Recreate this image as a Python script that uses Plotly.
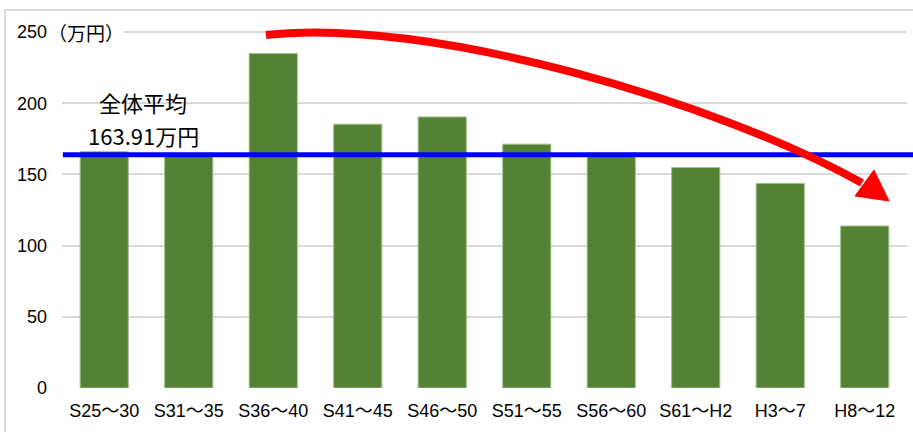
import plotly.graph_objects as go

# 建築年代別の平均額（万円）
periods = ["S25～30", "S31～35", "S36～40", "S41～45", "S46～50",
           "S51～55", "S56～60", "S61～H2", "H3～7", "H8～12"]
amounts = [166, 165, 235, 185.3, 190.4, 171.3, 165, 154.9, 143.7, 113.8]
overall_avg = 163.91
y_ticks = [0, 50, 100, 150, 200, 250]

TEXT_FONT = "Liberation Sans, Arial, Noto Sans CJK JP, sans-serif"
CJK_FONT = "Noto Sans CJK JP, Noto Sans CJK SC, sans-serif"

fig = go.Figure()
fig.add_trace(go.Bar(
    x=list(range(len(periods))),
    y=amounts,
    marker=dict(color="#548235", line=dict(color="#a3bd8c", width=1)),
    hoverinfo="skip",
))

# 全体平均の水平線
fig.add_shape(type="line", xref="paper", yref="y",
              x0=0.001, x1=1.01, y0=overall_avg, y1=overall_avg,
              line=dict(color="#0000ff", width=5), layer="above")

# 下降傾向を示す赤い曲線矢印（軸座標）
p0 = (1.914, 248.0)
p1 = (3.855, 261.0)
p2 = (7.287, 200.0)
p3 = (8.967, 144.0)
fig.add_shape(type="path", xref="x", yref="y",
              path=f"M {p0[0]},{p0[1]} C {p1[0]},{p1[1]} {p2[0]},{p2[1]} {p3[0]},{p3[1]}",
              line=dict(color="#ff0000", width=8), layer="above")
tip = (9.287, 131.4)
wing_a = (8.885, 134.9)
wing_b = (9.109, 153.1)
fig.add_shape(type="path", xref="x", yref="y",
              path=f"M {tip[0]},{tip[1]} L {wing_a[0]},{wing_a[1]} L {wing_b[0]},{wing_b[1]} Z",
              fillcolor="#ff0000", line=dict(color="#ff0000", width=1), layer="above")

# 外枠
fig.add_shape(type="rect", xref="paper", yref="paper",
              x0=-0.0675, x1=1.3, y0=-0.4, y1=1.0413,
              line=dict(color="#d9d9d9", width=2), layer="below")

# 単位表示
fig.add_annotation(xref="paper", yref="y", x=(47 - 62) / 845, y=250,
                   xanchor="left", yanchor="middle", showarrow=False,
                   text="（万円）", bgcolor="white", borderpad=0,
                   font=dict(family=CJK_FONT, size=19, color="#000000"))

# 平均値ラベル（2行）
label_x = (143 - 62) / 845
fig.add_annotation(xref="paper", yref="paper", x=label_x, y=(388 - 102) / 363,
                   xanchor="center", yanchor="middle", showarrow=False,
                   text="全体平均",
                   font=dict(family=CJK_FONT, size=22, color="#000000"))
fig.add_annotation(xref="paper", yref="paper", x=label_x, y=(388 - 135) / 363,
                   xanchor="center", yanchor="middle", showarrow=False,
                   text=f"{overall_avg:.2f}万円",
                   font=dict(family=CJK_FONT, size=22, color="#000000"))

fig.update_layout(
    width=913, height=432,
    margin=dict(l=62, r=6, t=25, b=44),
    paper_bgcolor="white", plot_bgcolor="white",
    bargap=0.43, showlegend=False,
    font=dict(family=TEXT_FONT, size=18, color="#000000"),
)
fig.update_xaxes(
    range=[-0.5, len(periods) - 0.5],
    tickmode="array", tickvals=list(range(len(periods))), ticktext=periods,
    showgrid=False, zeroline=False, showline=False, ticks="",
    ticklabelstandoff=10,
    tickfont=dict(family=TEXT_FONT, size=18, color="#000000"),
)
fig.update_yaxes(
    range=[0, 255],
    tickmode="array", tickvals=y_ticks, ticktext=[str(v) for v in y_ticks],
    showgrid=True, gridcolor="#d9d9d9", gridwidth=2,
    zeroline=False, showline=False, ticks="",
    ticklabelstandoff=14,
    tickfont=dict(family=TEXT_FONT, size=18, color="#000000"),
)

fig.write_html("out.html")
